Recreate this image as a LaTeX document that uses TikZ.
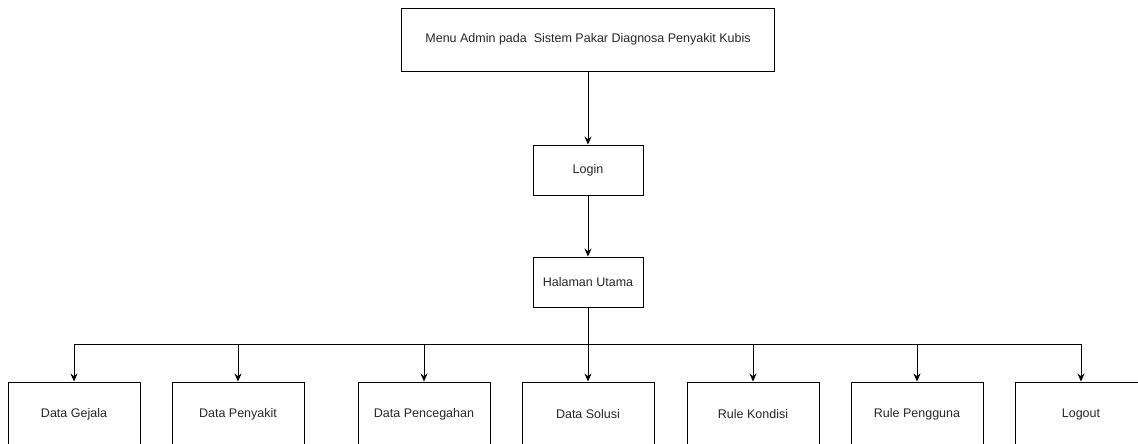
\documentclass[tikz,border=0pt]{standalone}
\usepackage{fontspec}
\setmainfont{Liberation Sans}
\usetikzlibrary{arrows.meta}

\begin{document}
\begin{tikzpicture}[x=1pt,y=-1pt,>={Stealth[length=8pt,width=7pt]},
  box/.style={draw,line width=0.9pt,inner sep=0pt,text=black!85,font=\fontsize{12.5}{15}\selectfont},
  link/.style={->,line width=0.9pt}]
  \useasboundingbox (0,0) rectangle (1138,444);
  \node[box,minimum width=373pt,minimum height=63pt] (menu) at (588,39.5) {Menu Admin pada \ Sistem Pakar Diagnosa Penyakit Kubis};
  \node[box,minimum width=110pt,minimum height=50pt] (login) at (588,170) {Login};
  \node[box,minimum width=110pt,minimum height=50pt] (utama) at (588,282) {Halaman Utama};
  \node[box,minimum width=132pt,minimum height=64pt] (gejala) at (74,414) {Data Gejala};
  \node[box,minimum width=132pt,minimum height=64pt] (penyakit) at (238,414) {Data Penyakit};
  \node[box,minimum width=132pt,minimum height=64pt] (pencegahan) at (424,414) {Data Pencegahan};
  \node[box,minimum width=132pt,minimum height=64pt] (solusi) at (588,414) {Data Solusi};
  \node[box,minimum width=132pt,minimum height=64pt] (kondisi) at (753,414) {Rule Kondisi};
  \node[box,minimum width=132pt,minimum height=64pt] (pengguna) at (917,414) {Rule Pengguna};
  \node[box,minimum width=132pt,minimum height=64pt] (logout) at (1081,414) {Logout};
  \coordinate (bus) at (588,344);
  \draw[link] (menu) -- (login);
  \draw[link] (login) -- (utama);
  \draw[line width=0.9pt] (utama) -- (bus);
  \draw[link] (bus) -| (gejala);
  \draw[link] (bus) -| (penyakit);
  \draw[link] (bus) -| (pencegahan);
  \draw[link] (bus) -- (solusi);
  \draw[link] (bus) -| (kondisi);
  \draw[link] (bus) -| (pengguna);
  \draw[link] (bus) -| (logout);
\end{tikzpicture}
\end{document}
